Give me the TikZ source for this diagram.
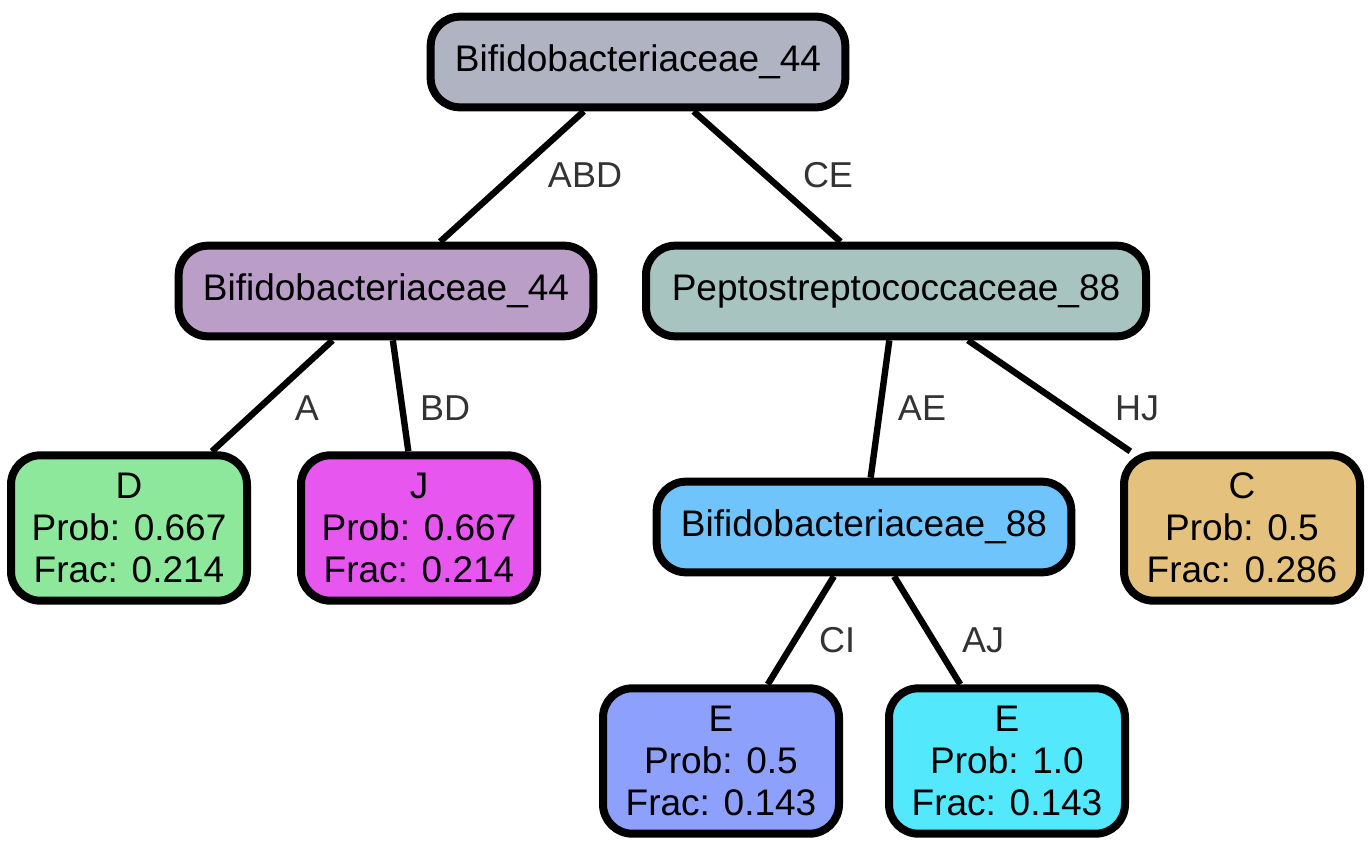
\documentclass[tikz,border=0pt]{standalone}
\usepackage{fontspec}
\setmainfont{Liberation Sans}

\definecolor{rootfill}{RGB}{176,180,194}
\definecolor{bifleftfill}{RGB}{186,158,200}
\definecolor{peptofill}{RGB}{168,196,192}
\definecolor{bifrightfill}{RGB}{112,196,252}
\definecolor{dfill}{RGB}{141,232,156}
\definecolor{jfill}{RGB}{232,86,240}
\definecolor{cfill}{RGB}{228,194,126}
\definecolor{eonefill}{RGB}{140,160,252}
\definecolor{etwofill}{RGB}{84,232,252}
\definecolor{labelgray}{RGB}{51,51,51}

\tikzset{every picture/.style={line width=0.75pt}}
\tikzset{
  treebox/.style={draw=black, line width=6pt, rounded corners=22pt, inner sep=0pt, align=center,
    font=\fontsize{27.75pt}{31.5pt}\selectfont},
  namebox/.style={treebox, minimum width=311pt, minimum height=68pt},
  leafbox/.style={treebox, minimum width=177pt, minimum height=109pt},
  edgelabel/.style={text=labelgray, inner sep=0.75pt, font=\fontsize{27pt}{31pt}\selectfont},
  treeedge/.style={line width=4.8pt}
}

\begin{document}
\begin{tikzpicture}[x=0.75pt,y=0.75pt,yscale=-1]
\useasboundingbox (0,0) rectangle (1371,846);

% Inner nodes
\node [namebox, fill=rootfill] (root) at (638,62) {Bifidobacteriaceae\_44};
\node [namebox, fill=bifleftfill] (bifleft) at (386,291) {Bifidobacteriaceae\_44};
\node [namebox, fill=peptofill, minimum width=375pt] (pepto) at (896,291) {Peptostreptococcaceae\_88};
\node [namebox, fill=bifrightfill] (bifright) at (864,527) {Bifidobacteriaceae\_88};

% Leaves
\node [leafbox, fill=dfill] (leafd) at (129,528) {D\\Prob: 0.667\\Frac: 0.214};
\node [leafbox, fill=jfill] (leafj) at (419,528) {J\\Prob: 0.667\\Frac: 0.214};
\node [leafbox, fill=cfill] (leafc) at (1242,528) {C\\Prob: 0.5\\Frac: 0.286};
\node [leafbox, fill=eonefill] (leafeone) at (721,761) {E\\Prob: 0.5\\Frac: 0.143};
\node [leafbox, fill=etwofill] (leafetwo) at (1007,761) {E\\Prob: 1.0\\Frac: 0.143};

% Edges
\draw [treeedge] (root) -- (bifleft);
\draw [treeedge] (root) -- (pepto);
\draw [treeedge] (bifleft) -- (leafd);
\draw [treeedge] (bifleft) -- (leafj);
\draw [treeedge] (pepto) -- (bifright);
\draw [treeedge] (pepto) -- (leafc);
\draw [treeedge] (bifright) -- (leafeone);
\draw [treeedge] (bifright) -- (leafetwo);

% Edge labels
\node [edgelabel] (lababd) at (585,175) {ABD};
\node [edgelabel] (labce) at (828,175) {CE};
\node [edgelabel] (laba) at (307,408) {A};
\node [edgelabel] (labbd) at (445,408) {BD};
\node [edgelabel] (labae) at (922,408) {AE};
\node [edgelabel] (labhj) at (1137,408) {HJ};
\node [edgelabel] (labci) at (837,640) {CI};
\node [edgelabel] (labaj) at (983,640) {AJ};

\end{tikzpicture}
\end{document}
